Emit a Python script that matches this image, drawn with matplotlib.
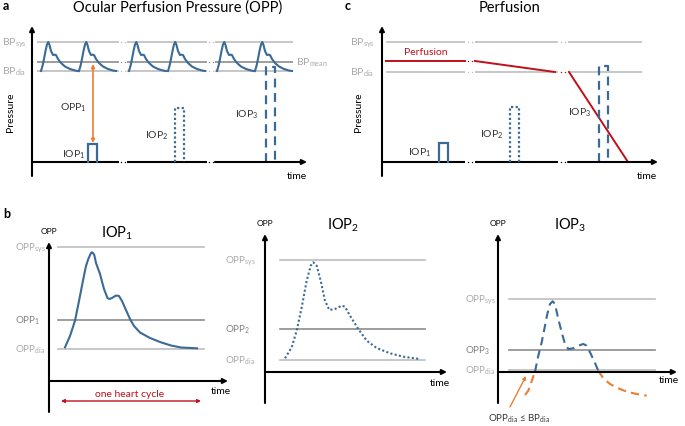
import matplotlib
matplotlib.use("Agg")
import matplotlib.pyplot as plt

# --- schematic values (pressure / time units of each panel) ---
# panel a: blood pressure levels and heart beats
A_BP_SYS, A_BP_MEAN, A_BP_DIA = 120, 100.5, 91
A_BEAT_STARTS = [9, 47, 97, 136, 185, 223]
BEAT_T = [0, 1.5, 3, 4.5, 6, 7.3, 8.5, 10, 12, 13.5, 15, 17, 20, 24, 29, 34, 37]
BEAT_H = [0, 5, 12, 20, 26.5, 29, 26, 20, 16, 16.3, 16, 12, 8, 4.5, 2, 0.5, 0]
A_IOP_X = [56, 143, 234]
A_IOP_H = [18, 54, 95]
A_OPP1 = [98, 19]

# panel c: perfusion
C_BP_SYS, C_BP_DIA = 120, 90
C_PERF_X = [[4, 83], [93, 173], [187, 246]]
C_PERF_Y = [[101, 101], [101, 90], [90, 0]]
C_IOP_X = [57, 128, 217]
C_IOP_H = [19, 55, 96]

IOP_W = 9
BREAKS = [(87, 95), (175, 183)]
C_BREAKS = [(83, 93), (176, 186)]

# panel b: one heart cycle of OPP for each IOP
B1_LEVELS = [134, 61, 32]
B1_T = [16, 21, 26, 30, 34.3, 37, 39.3, 41.5, 42.7, 44, 45.3, 47, 51, 55, 58.5,
        60.3, 63, 67, 70, 73, 77, 81, 85, 91, 101, 111, 122, 132, 148]
B1_P = [33.7, 45, 60.3, 80, 102, 115, 122, 127, 128.7, 128, 126, 118, 107, 92, 83,
        82, 83, 85.5, 85, 80, 71, 62, 55, 48.5, 43, 39, 35.5, 33.5, 32.7]

B2_LEVELS = [112, 43, 12]
B2_T = [20, 26.7, 31.7, 36.7, 41.7, 45.7, 48.3, 51.7, 55.7, 60, 64.3, 70, 76.7,
        80, 85, 93.3, 101.7, 111.7, 125, 138.3, 155]
B2_P = [13.7, 24.7, 41.3, 64.7, 91.3, 106.3, 109.7, 106.3, 91.3, 71.3, 62, 63,
        66.3, 65.3, 56.3, 43, 31.3, 24, 18.7, 15.3, 13]

B3_LEVELS = [73, 22, 2]
B3_T_LOW1 = [27, 30.3, 32.7, 35.3, 37]
B3_P_LOW1 = [-23, -18.7, -12, -4.3, 0.3]
B3_T_HIGH = [37, 40.3, 43.7, 47, 49.3, 52, 54.7, 57, 60.3, 63.7, 67, 70.3, 75.3,
             80.3, 85.3, 88.7, 92, 96, 100.3]
B3_P_HIGH = [0.3, 16.3, 29.7, 46.3, 58, 68, 70.7, 68, 53, 39.7, 28, 23, 23.7,
             26.3, 28, 26.3, 19.7, 11.3, 1.3]
B3_T_LOW2 = [100.3, 105.3, 112, 120.3, 128.7, 138.7, 148.7]
B3_P_LOW2 = [1.3, -6.3, -12, -16.3, -19.7, -22, -23.7]

BLUE = "#3B6A96"
RED = "#C0101A"
ORANGE = "#EC7D33"
LIGHT = "#BDBDBD"
MID = "#8C8C8C"
LABEL = "#A8A8A8"
LABEL2 = "#7F7F7F"
TEXT = "#333333"

plt.rcParams["font.family"] = ["Lato", "DejaVu Sans"]
plt.rcParams["mathtext.fontset"] = "custom"
plt.rcParams["mathtext.rm"] = "Lato"
plt.rcParams["mathtext.it"] = "Lato"
plt.rcParams["mathtext.default"] = "regular"

W, H = 685, 427
fig = plt.figure(figsize=(W / 100, H / 100), dpi=100)


def panel(ox, oy):
    # transparent axes over the whole figure, origin at the panel's axis corner
    ax = fig.add_axes([0, 0, 1, 1])
    ax.set_xlim(-ox, W - ox)
    ax.set_ylim(oy - H, oy)
    ax.axis("off")
    ax.patch.set_alpha(0)
    return ax


def arrow(ax, start, end, color="k", lw=1.5, style="-|>", ms=7):
    ax.annotate("", xy=end, xytext=start,
                arrowprops=dict(arrowstyle=style, color=color, lw=lw,
                                mutation_scale=ms, shrinkA=0, shrinkB=0))


def gap_dots(ax, gaps, ys, color):
    for (g0, g1), y in zip(gaps, ys):
        ax.plot([g0 + (g1 - g0) * 0.3, g0 + (g1 - g0) * 0.72], [y, y], ls="none",
                marker="o", ms=1.0, mew=0, color=color)


def broken_line(ax, x0, x1, y, gaps, color, lw, arrow_end=False):
    edges = [x0] + [g for gap in gaps for g in gap] + [x1]
    segs = list(zip(edges[::2], edges[1::2]))
    for i, (a, b) in enumerate(segs):
        if arrow_end and i == len(segs) - 1:
            arrow(ax, (a, y), (b, y), color=color, lw=lw)
        else:
            ax.plot([a, b], [y, y], color=color, lw=lw, solid_capstyle="butt")
    gap_dots(ax, gaps, [y] * len(gaps), color)


def iop_box(ax, x, h, ls):
    ax.plot([x, x, x + IOP_W, x + IOP_W], [0, h, h, 0], color=BLUE, lw=1.6,
            ls=ls, solid_joinstyle="miter")


styles = ["-", (0, (1, 1.1)), (0, (4, 2.5))]

# ---------------- panel a ----------------
ax = panel(32, 163)
ax.text(-29, 157, "a", fontsize=9, fontweight="bold", ha="left", va="center")
ax.text(146, 155, "Ocular Perfusion Pressure (OPP)", fontsize=10.5, ha="center", va="center")
arrow(ax, (0, -14), (0, 136))
broken_line(ax, 0, 275, 0, BREAKS, "k", 1.5, arrow_end=True)
for lvl, col in [(A_BP_SYS, LIGHT), (A_BP_MEAN, MID), (A_BP_DIA, LIGHT)]:
    broken_line(ax, 5, 261, lvl, BREAKS, col, 1.2)
for s in A_BEAT_STARTS:
    ax.plot([s + t for t in BEAT_T],
            [A_BP_DIA + h * (A_BP_SYS - A_BP_DIA) / 29 for h in BEAT_H],
            color=BLUE, lw=1.5)
for x, h, ls in zip(A_IOP_X, A_IOP_H, styles):
    iop_box(ax, x, h, ls)
arrow(ax, (61, A_OPP1[1]), (61, A_OPP1[0]), color=ORANGE, lw=1.2, style="<|-|>", ms=5)
ax.text(-30, A_BP_SYS, "BP$_{sys}$", color=LABEL, fontsize=7.5, va="center")
ax.text(-30, A_BP_DIA, "BP$_{dia}$", color=LABEL, fontsize=7.5, va="center")
ax.text(264, A_BP_MEAN, "BP$_{mean}$", color=LABEL, fontsize=7.5, va="center")
ax.text(41, 55, "OPP$_1$", fontsize=7.5, ha="center", va="center", color=TEXT)
for (x, y), n in zip([(42, 8), (125, 27), (215, 48)], "123"):
    ax.text(x, y, "IOP$_%s$" % n, fontsize=7.5, ha="center", va="center", color=TEXT)
ax.text(-22, 51, "Pressure", fontsize=7.5, rotation=90, ha="center", va="center")
ax.text(265, -14, "time", fontsize=7.5, ha="center", va="center")

# ---------------- panel c ----------------
ax = panel(382, 163)
ax.text(-37, 157, "c", fontsize=9, fontweight="bold", ha="left", va="center")
ax.text(128, 155, "Perfusion", fontsize=10.5, ha="center", va="center")
arrow(ax, (0, -14), (0, 136))
broken_line(ax, 0, 276, 0, C_BREAKS, "k", 1.5, arrow_end=True)
for lvl in [C_BP_SYS, C_BP_DIA]:
    broken_line(ax, 4, 260, lvl, C_BREAKS, LIGHT, 1.2)
for xs, ys in zip(C_PERF_X, C_PERF_Y):
    ax.plot(xs, ys, color=RED, lw=1.4)
gap_dots(ax, C_BREAKS, [C_PERF_Y[0][1], C_PERF_Y[1][1]], RED)
for x, h, ls in zip(C_IOP_X, C_IOP_H, styles):
    iop_box(ax, x, h, ls)
ax.text(-32, C_BP_SYS, "BP$_{sys}$", color=LABEL, fontsize=7.5, va="center")
ax.text(-32, C_BP_DIA, "BP$_{dia}$", color=LABEL, fontsize=7.5, va="center")
ax.text(44, 110, "Perfusion", color=RED, fontsize=7.5, ha="center", va="center")
for (x, y), n in zip([(38, 10), (110, 28), (198, 50)], "123"):
    ax.text(x, y, "IOP$_%s$" % n, fontsize=7.5, ha="center", va="center", color=TEXT)
ax.text(-24, 51, "Pressure", fontsize=7.5, rotation=90, ha="center", va="center")
ax.text(265, -14, "time", fontsize=7.5, ha="center", va="center")


# ---------------- panel b ----------------
def b_panel(ox, oy, levels, n, xend, ytop, line_x, lab_x, title_x, time_xy):
    ax = panel(ox, oy)
    arrow(ax, (0, -31), (0, ytop))
    arrow(ax, (0, 0), (xend, 0))
    for lvl, col in zip(levels, [LIGHT, MID, LIGHT]):
        ax.plot(line_x, [lvl, lvl], color=col, lw=1.2)
    ax.text(lab_x, levels[0], "OPP$_{sys}$", color=LABEL, fontsize=7, va="center")
    ax.text(lab_x, levels[1], "OPP$_%s$" % n, color=LABEL2, fontsize=7, va="center")
    ax.text(lab_x, levels[2], "OPP$_{dia}$", color=LABEL, fontsize=7, va="center")
    ax.text(0, ytop + 11, "OPP", fontsize=6, ha="center", va="center")
    ax.text(title_x, ytop + 10, "IOP$_%s$" % n, fontsize=10.5, ha="center", va="center")
    ax.text(time_xy[0], time_xy[1], "time", fontsize=7.5, ha="center", va="center")
    return ax


ax = b_panel(49, 382, B1_LEVELS, 1, 179, 139, [9, 155], -34, 68, (172, -10))
ax.text(-46, 168, "b", fontsize=9, fontweight="bold", ha="left", va="center")
ax.plot(B1_T, B1_P, color=BLUE, lw=1.5)
arrow(ax, (12, -20), (152, -20), color=RED, lw=1.0, style="<|-|>", ms=5)
ax.text(81, -13, "one heart cycle", color=RED, fontsize=7.5, ha="center", va="center")

ax = b_panel(265, 373, B2_LEVELS, 2, 182, 138, [15, 160], -40, 78, (175, -11))
ax.plot(B2_T, B2_P, color=BLUE, lw=1.5, ls=(0, (1, 1.1)))

ax = b_panel(498, 373, B3_LEVELS, 3, 179, 138, [11, 157], -33, 72, (171, -8))
ax.plot(B3_T_HIGH, B3_P_HIGH, color=BLUE, lw=1.5, ls=(0, (4, 2.5)))
ax.plot(B3_T_LOW1, B3_P_LOW1, color=ORANGE, lw=1.5, ls=(0, (4, 2.5)))
ax.plot(B3_T_LOW2, B3_P_LOW2, color=ORANGE, lw=1.5, ls=(0, (4, 2.5)))
arrow(ax, (12, -35), (28, -4), color=ORANGE, lw=1.0, ms=5)
ax.text(21, -46, "OPP$_{dia}$ ≤ BP$_{dia}$", fontsize=7, ha="center", va="center",
        color=TEXT)

fig.savefig("out.png", dpi=100)
